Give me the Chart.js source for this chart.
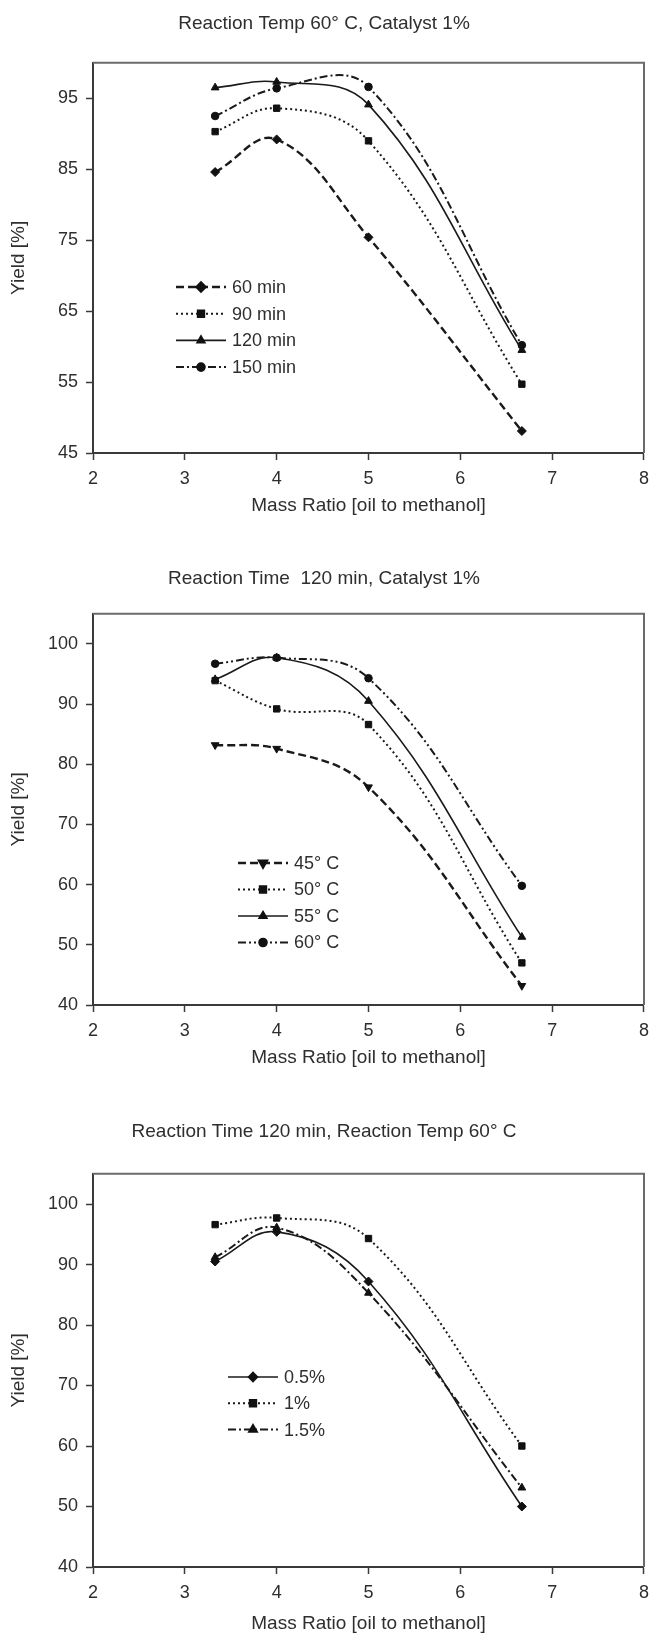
<!DOCTYPE html>
<html>
<head>
<meta charset="utf-8">
<script src="https://cdn.jsdelivr.net/npm/chart.js@4/dist/chart.umd.min.js"></script>
<style>
  body { margin: 0; background: #ffffff; }
  .panel { position: absolute; left: 0; width: 657px; }
</style>
</head>
<body>
<div class="panel" style="top:0px"><canvas id="chart_time" width="657" height="540"></canvas></div>
<div class="panel" style="top:540px"><canvas id="chart_temp" width="657" height="550"></canvas></div>
<div class="panel" style="top:1090px"><canvas id="chart_catalyst" width="657" height="548"></canvas></div>
<script>
// mass ratio (oil to methanol) used in every panel
var massRatio = [3.33, 4, 5, 6.67];
var xTickValues = [2, 3, 4, 5, 6, 7, 8];

// panel 1 - reaction temp 60 C, catalyst 1%
var timeTitle = 'Reaction Temp 60° C, Catalyst 1%';
var timeLabels = ['60 min', '90 min', '120 min', '150 min'];
var yield60min = [84.6, 89.2, 75.4, 48.1];
var yield90min = [90.3, 93.6, 89.0, 54.7];
var yield120min = [96.5, 97.3, 94.1, 59.5];
var yield150min = [92.5, 96.4, 96.6, 60.2];
var timeYTicks = [45, 55, 65, 75, 85, 95];

// panel 2 - reaction time 120 min, catalyst 1%
var tempTitle = 'Reaction Time  120 min, Catalyst 1%';
var tempLabels = ['45° C', '50° C', '55° C', '60° C'];
var yield45c = [83.2, 82.6, 76.2, 43.2];
var yield50c = [93.9, 89.2, 86.6, 47.0];
var yield55c = [94.1, 97.7, 90.5, 51.3];
var yield60c = [96.7, 97.7, 94.3, 59.8];
var tempYTicks = [40, 50, 60, 70, 80, 90, 100];

// panel 3 - reaction time 120 min, reaction temp 60 C
var catTitle = 'Reaction Time 120 min, Reaction Temp 60° C';
var catLabels = ['0.5%', '1%', '1.5%'];
var yieldCat05 = [90.5, 95.4, 87.2, 50.0];
var yieldCat10 = [96.6, 97.7, 94.3, 60.0];
var yieldCat15 = [91.2, 96.1, 85.3, 53.1];
var catYTicks = [40, 50, 60, 70, 80, 90, 100];

var FONT = "'Liberation Sans', Arial, sans-serif";
var INK = '#2e2e2e';
var AXIS = '#3a3a3a';

var dashStyles = {
    solid: [],
    dashed: [8, 4],
    dotted: [2, 3],
    dashDot: [8, 3, 2, 3],
    dashDotDot: [8, 3, 2, 3, 2, 3]
};

var plotBoxPlugin = {
    id: 'plotBox',
    beforeDatasetsDraw(chart, args, opts) {
        var a = chart.chartArea;
        var ctx = chart.ctx;
        ctx.save();
        ctx.strokeStyle = opts.color;
        ctx.lineWidth = opts.width;
        ctx.beginPath();
        ctx.moveTo(a.left, a.top);
        ctx.lineTo(a.right, a.top);
        ctx.lineTo(a.right, a.bottom);
        ctx.stroke();
        ctx.restore();
    }
};

// legend drawn inside the plot: line sample, marker in the middle, label
var insetLegendPlugin = {
    id: 'insetLegend',
    afterDatasetsDraw(chart, args, opts) {
        var ctx = chart.ctx;
        chart.data.datasets.forEach(function (ds, i) {
            var y = opts.y + i * opts.gap;
            ctx.save();
            ctx.strokeStyle = ds.borderColor;
            ctx.lineWidth = ds.borderWidth;
            ctx.setLineDash(ds.borderDash);
            ctx.beginPath();
            ctx.moveTo(opts.x, y);
            ctx.lineTo(opts.x + opts.len, y);
            ctx.stroke();
            ctx.setLineDash([]);
            ctx.fillStyle = ds.pointBackgroundColor;
            ctx.strokeStyle = ds.pointBorderColor;
            Chart.helpers.drawPoint(ctx, {
                pointStyle: ds.pointStyle,
                rotation: ds.pointRotation || 0,
                radius: ds.pointRadius,
                borderWidth: 1
            }, opts.x + opts.len / 2, y);
            ctx.fillStyle = INK;
            ctx.font = '18px ' + FONT;
            ctx.textBaseline = 'middle';
            ctx.fillText(ds.label, opts.x + opts.len + 6, y + 1);
            ctx.restore();
        });
    }
};

function makeSeries(label, values, dash, pointStyle, rotation, width) {
    return {
        label: label,
        data: massRatio.map(function (x, i) { return { x: x, y: values[i] }; }),
        showLine: true,
        fill: false,
        tension: 0.4,
        borderColor: '#1a1a1a',
        borderWidth: width || 2,
        borderDash: dash,
        pointStyle: pointStyle,
        pointRotation: rotation || 0,
        pointRadius: pointStyle === 'circle' ? 3.8 : 4.5,
        pointBackgroundColor: '#111111',
        pointBorderColor: '#111111',
        pointBorderWidth: 1
    };
}

function drawPanel(canvasId, title, datasets, yTicks, yMin, yMax, lay) {
    var ctx = document.getElementById(canvasId).getContext('2d');
    return new Chart(ctx, {
        type: 'scatter',
        data: { datasets: datasets },
        plugins: [plotBoxPlugin, insetLegendPlugin],
        options: {
            responsive: false,
            animation: false,
            layout: { padding: { left: 0, right: 9, top: 0, bottom: 0 } },
            plugins: {
                legend: { display: false },
                tooltip: { enabled: false },
                title: {
                    display: true,
                    text: title,
                    color: INK,
                    font: { family: FONT, size: 19, weight: 'normal', lineHeight: 1.2 },
                    padding: { top: lay.titleTop, bottom: lay.titleBottom }
                },
                plotBox: { color: '#6b6b6b', width: 2 },
                insetLegend: lay.legend
            },
            scales: {
                x: {
                    type: 'linear',
                    min: 2,
                    max: 8,
                    afterBuildTicks(scale) {
                        scale.ticks = xTickValues.map(function (v) { return { value: v }; });
                    },
                    afterFit(scale) { scale.height = lay.xHeight; },
                    ticks: { color: INK, padding: 8, font: { family: FONT, size: 18 } },
                    grid: { drawOnChartArea: false, drawTicks: true, tickLength: 7, tickColor: AXIS, tickWidth: 1.5 },
                    border: { display: true, color: AXIS, width: 2 },
                    title: {
                        display: true,
                        text: 'Mass Ratio [oil to methanol]',
                        color: INK,
                        font: { family: FONT, size: 19, lineHeight: 1.2 },
                        padding: { top: 0, bottom: lay.xTitleBottom }
                    }
                },
                y: {
                    type: 'linear',
                    min: yMin,
                    max: yMax,
                    afterBuildTicks(scale) {
                        scale.ticks = yTicks.map(function (v) { return { value: v }; });
                    },
                    afterFit(scale) { scale.width = 93; },
                    ticks: { color: INK, padding: 8, font: { family: FONT, size: 18 } },
                    grid: { drawOnChartArea: false, drawTicks: true, tickLength: 7, tickColor: AXIS, tickWidth: 1.5 },
                    border: { display: true, color: AXIS, width: 2 },
                    title: {
                        display: true,
                        text: 'Yield [%]',
                        color: INK,
                        font: { family: FONT, size: 19, lineHeight: 1.2 },
                        padding: { top: 7, bottom: 0 }
                    }
                }
            }
        }
    });
}

drawPanel('chart_time', timeTitle, [
    makeSeries(timeLabels[0], yield60min, dashStyles.dashed, 'rectRot', 0, 2.4),
    makeSeries(timeLabels[1], yield90min, dashStyles.dotted, 'rect'),
    makeSeries(timeLabels[2], yield120min, dashStyles.solid, 'triangle', 0, 1.6),
    makeSeries(timeLabels[3], yield150min, dashStyles.dashDot, 'circle')
], timeYTicks, 45, 100, {
    titleTop: 12, titleBottom: 28, xHeight: 87, xTitleBottom: 23,
    legend: { x: 176, y: 287, gap: 26.7, len: 50 }
});

drawPanel('chart_temp', tempTitle, [
    makeSeries(tempLabels[0], yield45c, dashStyles.dashed, 'triangle', 180, 2.4),
    makeSeries(tempLabels[1], yield50c, dashStyles.dotted, 'rect'),
    makeSeries(tempLabels[2], yield55c, dashStyles.solid, 'triangle', 0, 1.6),
    makeSeries(tempLabels[3], yield60c, dashStyles.dashDotDot, 'circle')
], tempYTicks, 40, 105, {
    titleTop: 27, titleBottom: 24, xHeight: 85, xTitleBottom: 21,
    legend: { x: 238, y: 323, gap: 26.5, len: 50 }
});

drawPanel('chart_catalyst', catTitle, [
    makeSeries(catLabels[0], yieldCat05, dashStyles.solid, 'rectRot', 0, 1.6),
    makeSeries(catLabels[1], yieldCat10, dashStyles.dotted, 'rect'),
    makeSeries(catLabels[2], yieldCat15, dashStyles.dashDot, 'triangle')
], catYTicks, 40, 105, {
    titleTop: 30, titleBottom: 31, xHeight: 71, xTitleBottom: 3,
    legend: { x: 228, y: 287, gap: 26.3, len: 50 }
});
</script>
</body>
</html>
